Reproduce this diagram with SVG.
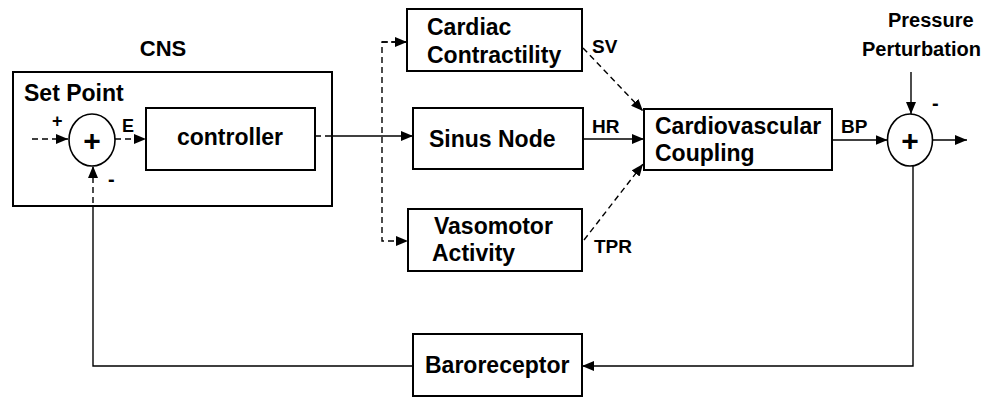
<svg xmlns="http://www.w3.org/2000/svg" width="986" height="397" viewBox="0 0 986 397">
  <style>
    .box { fill: #fff; stroke: #000; stroke-width: 2; }
    .sum { fill: #fff; stroke: #000; stroke-width: 1.6; }
    .lbl { font-family: "Liberation Sans", Arial, sans-serif; font-weight: bold; fill: #000; }
    .big { font-size: 23px; }
    .sig { font-size: 19px; }
    .plus { font-size: 30px; text-anchor: middle; }
    .ln { fill: none; stroke: #000; stroke-width: 1.4; }
    .dash { stroke-dasharray: 6 4; }
  </style>
  <defs>
    <marker id="ah" viewBox="0 0 12 10" refX="12" refY="5" markerWidth="12" markerHeight="10" markerUnits="userSpaceOnUse" orient="auto">
      <path d="M0,0 L12,5 L0,10 Z" fill="#000"/>
    </marker>
  </defs>

  <!-- CNS container -->
  <g id="cns">
    <rect class="box" x="13" y="72" width="319" height="134"/>
    <text class="lbl" x="163" y="56" font-size="22" text-anchor="middle">CNS</text>
    <text class="lbl big" x="24" y="101">Set Point</text>
  </g>

  <g id="sum-left">
    <ellipse class="sum" cx="92" cy="140" rx="23" ry="26"/>
    <text class="lbl plus" x="92" y="151">+</text>
  </g>

  <g id="controller">
    <rect class="box" x="146" y="108" width="169" height="62"/>
    <text class="lbl big" x="230" y="145" text-anchor="middle">controller</text>
  </g>

  <g id="cardiac">
    <rect class="box" x="407" y="9" width="175" height="62"/>
    <text class="lbl big" x="427" y="35">Cardiac</text>
    <text class="lbl big" x="427" y="63">Contractility</text>
  </g>

  <g id="sinus">
    <rect class="box" x="413" y="108" width="170" height="61"/>
    <text class="lbl big" x="429" y="147">Sinus Node</text>
  </g>

  <g id="vasomotor">
    <rect class="box" x="408" y="209" width="174" height="62"/>
    <text class="lbl big" x="434" y="234">Vasomotor</text>
    <text class="lbl big" x="432" y="261">Activity</text>
  </g>

  <g id="coupling">
    <rect class="box" x="644" y="109" width="188" height="61"/>
    <text class="lbl big" x="655" y="134">Cardiovascular</text>
    <text class="lbl big" x="655" y="161">Coupling</text>
  </g>

  <g id="sum-right">
    <ellipse class="sum" cx="910" cy="140" rx="22.5" ry="26"/>
    <text class="lbl plus" x="910" y="151">+</text>
  </g>

  <g id="baroreceptor">
    <rect class="box" x="413" y="334" width="169" height="62"/>
    <text class="lbl big" x="425" y="373">Baroreceptor</text>
  </g>

  <g id="perturbation">
    <text class="lbl" x="888" y="27" font-size="20">Pressure</text>
    <text class="lbl" x="862" y="56" font-size="20">Perturbation</text>
  </g>

  <!-- connectors -->
  <g id="connectors">
    <!-- set point into comparator, error into controller -->
    <path class="ln dash" d="M32,139 H68" marker-end="url(#ah)"/>
    <path class="ln dash" d="M115,139 H146" marker-end="url(#ah)"/>
    <!-- controller output -->
    <path class="ln dash" d="M315,136 H332"/>
    <path class="ln" d="M332,136 H413" marker-end="url(#ah)"/>
    <!-- branch to cardiac and vasomotor -->
    <path class="ln dash" d="M407,42 H382 V241 H408" marker-end="url(#ah)"/>
    <path class="ln dash" d="M382,42 H407" marker-end="url(#ah)"/>
    <!-- effector outputs into coupling -->
    <path class="ln dash" d="M583,48 L643,111" marker-end="url(#ah)"/>
    <path class="ln" d="M583,139 H644" marker-end="url(#ah)"/>
    <path class="ln dash" d="M584,240 L643,164" marker-end="url(#ah)"/>
    <!-- blood pressure -->
    <path class="ln" d="M832,140 H887.5" marker-end="url(#ah)"/>
    <path class="ln" d="M911,72 V114" marker-end="url(#ah)"/>
    <path class="ln" d="M932.5,140 H967" marker-end="url(#ah)"/>
    <!-- feedback loop -->
    <path class="ln" d="M913,166 V366 H582" marker-end="url(#ah)"/>
    <path class="ln" d="M413,366 H93 V213"/>
    <path class="ln dash" d="M93,213 V166" marker-end="url(#ah)"/>

    <!-- signal labels -->
    <text class="lbl" x="52" y="127" font-size="18">+</text>
    <text class="lbl" x="122" y="132" font-size="18">E</text>
    <text class="lbl" x="108" y="186" font-size="20">-</text>
    <text class="lbl" x="932" y="110" font-size="20">-</text>
    <text class="lbl sig" x="592" y="53">SV</text>
    <text class="lbl sig" x="592" y="133">HR</text>
    <text class="lbl sig" x="594" y="253">TPR</text>
    <text class="lbl sig" x="841" y="133">BP</text>
  </g>
</svg>
